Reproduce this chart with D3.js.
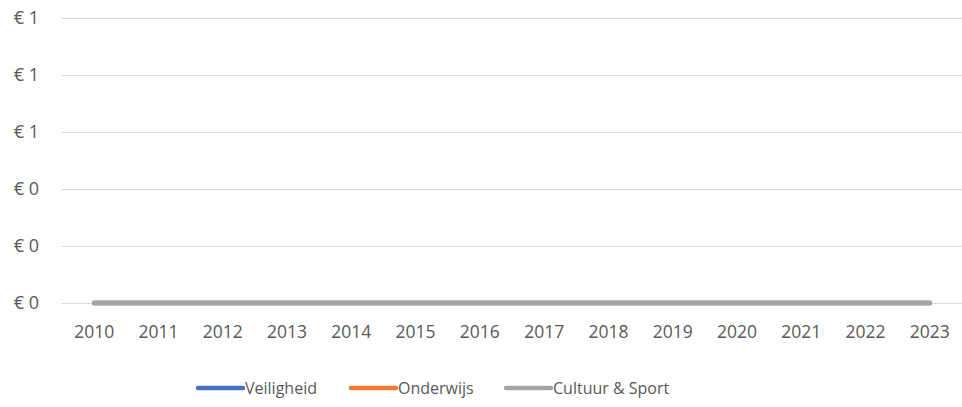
<!DOCTYPE html>
<html>
<head>
<meta charset="utf-8">
<script src="https://cdn.jsdelivr.net/npm/d3@7"></script>
<style>
  body { margin: 0; background: #fff; }
  text { font-family: "Open Sans", "Noto Sans", sans-serif; fill: #595959; }
</style>
</head>
<body>
<svg id="chart" width="962" height="407"></svg>
<script>
var years = ["2010", "2011", "2012", "2013", "2014", "2015", "2016", "2017", "2018", "2019", "2020", "2021", "2022", "2023"];
var veiligheid = [0, 0, 0, 0, 0, 0, 0, 0, 0, 0, 0, 0, 0, 0];
var onderwijs = [0, 0, 0, 0, 0, 0, 0, 0, 0, 0, 0, 0, 0, 0];
var cultuurSport = [0, 0, 0, 0, 0, 0, 0, 0, 0, 0, 0, 0, 0, 0];
var yTicks = [0, 0.2, 0.4, 0.6, 0.8, 1.0];

var series = [
    { name: "Veiligheid", values: veiligheid, color: "#4472c4" },
    { name: "Onderwijs", values: onderwijs, color: "#ed7d31" },
    { name: "Cultuur & Sport", values: cultuurSport, color: "#a5a5a5" }
];

var svg = d3.select("#chart");
var plotLeft = 62, plotRight = 962, plotTop = 18, plotBottom = 303;

var x = d3.scaleBand().domain(years).range([plotLeft, plotRight]);
var y = d3.scaleLinear().domain([0, 1]).range([plotBottom, plotTop]);

// gridlines
svg.append("g")
    .attr("transform", "translate(" + plotLeft + ",0)")
    .call(d3.axisLeft(y).tickValues(yTicks).tickSize(-(plotRight - plotLeft)).tickFormat(""))
    .call(function(g) {
        g.select(".domain").remove();
        g.selectAll("line").attr("stroke", "#d9d9d9").attr("stroke-width", 1.2);
    });

// y labels
svg.append("g")
    .attr("transform", "translate(" + plotLeft + ",0)")
    .call(d3.axisLeft(y).tickValues(yTicks).tickSize(0).tickPadding(23)
        .tickFormat(function(d) { return "€ " + Math.round(d); }))
    .call(function(g) {
        g.select(".domain").remove();
        g.selectAll("text").attr("font-size", 18).attr("fill", "#595959")
            .style("font-family", "'Open Sans', sans-serif");
    });

// x labels
svg.append("g")
    .attr("transform", "translate(0," + plotBottom + ")")
    .call(d3.axisBottom(x).tickSize(0).tickPadding(23))
    .call(function(g) {
        g.select(".domain").remove();
        g.selectAll("text").attr("font-size", 17.5).attr("fill", "#595959")
            .style("font-family", "'Open Sans', sans-serif");
    });

var line = d3.line()
    .x(function(d, i) { return x(years[i]) + x.bandwidth() / 2; })
    .y(function(d) { return y(d); });

svg.append("g").selectAll("path")
    .data(series)
    .join("path")
    .attr("d", function(d) { return line(d.values); })
    .attr("fill", "none")
    .attr("stroke", function(d) { return d.color; })
    .attr("stroke-width", 4.5)
    .attr("stroke-linecap", "round")
    .attr("stroke-linejoin", "round");

// legend
var legendX = [198, 351, 506];
var legend = svg.append("g").selectAll("g")
    .data(series)
    .join("g")
    .attr("transform", function(d, i) { return "translate(" + legendX[i] + ",388)"; });

legend.append("line")
    .attr("x1", 0).attr("x2", 45)
    .attr("stroke", function(d) { return d.color; })
    .attr("stroke-width", 4.5)
    .attr("stroke-linecap", "round");

legend.append("text")
    .attr("x", 47)
    .attr("dy", "0.35em")
    .attr("font-size", 16)
    .text(function(d) { return d.name; });
</script>
</body>
</html>
